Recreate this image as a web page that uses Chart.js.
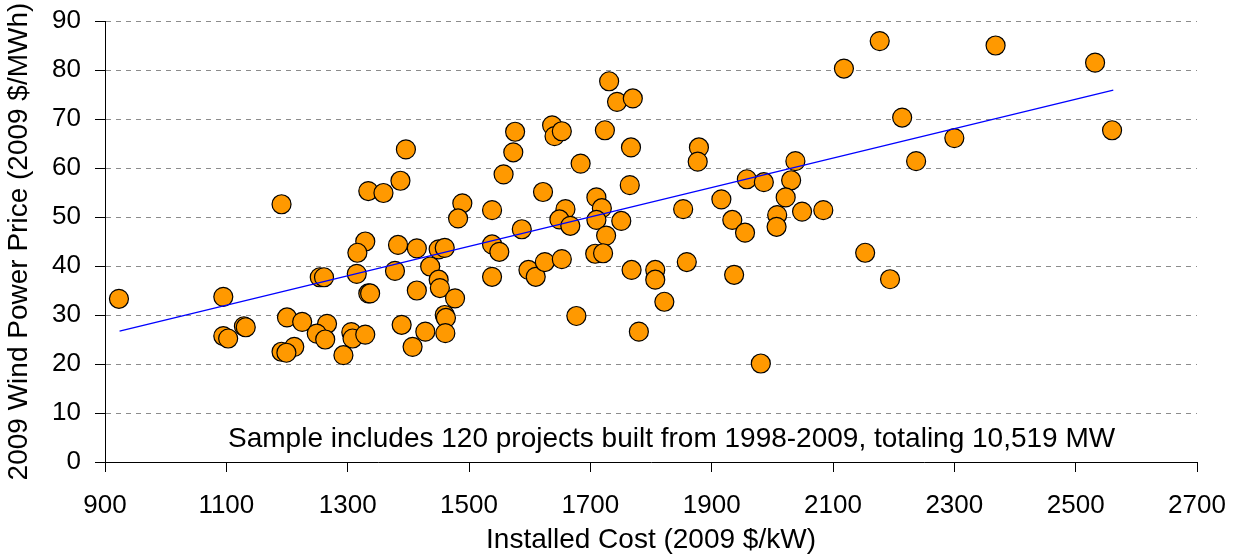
<!DOCTYPE html>
<html lang="en">
<head>
<meta charset="UTF-8">
<title>Wind Power Price vs Installed Cost</title>
<script src="https://cdn.jsdelivr.net/npm/chart.js"></script>
<style>
    body { margin: 0; background: #fff; }
    #wrap { width: 1237px; height: 557px; }
</style>
</head>
<body>
<div id="wrap"><canvas id="chart"></canvas></div>
<script>
// installed cost (2009 $/kW) and 2009 price (2009 $/MWh), one entry per project
const installedCost = [
    923, 1191, 1095, 1095, 1103, 1129, 1132, 1334, 1359, 1329,
    1316, 1254, 1261, 1315, 1334, 1337, 1200, 1225, 1266, 1249,
    1263, 1306, 1308, 1329, 1191, 1212, 1293, 1199, 1731, 1744,
    1770, 1576, 1573, 1557, 1637, 1641, 1653, 1724, 1767, 1684,
    1765, 1396, 1387, 1622, 1710, 1719, 1710, 1659, 1649, 1667,
    1751, 1726, 1708, 1721, 1489, 1482, 1538, 1587, 1538, 1550,
    1383, 1414, 1450, 1460, 1436, 1378, 1450, 1452, 1414, 1477,
    1460, 1462, 1461, 1428, 1389, 1407, 1538, 1598, 1610, 1625,
    1653, 1677, 1768, 1807, 1807, 1822, 1780, 2118, 2214, 2300,
    2237, 1879, 1877, 2038, 1958, 1986, 2031, 2022, 1916, 1853,
    2049, 2084, 2008, 2007, 1934, 1955, 1859, 1937, 2153, 2194,
    1981, 2368, 2532, 2560, 2177
];
const windPrice = [
    33.3, 52.6, 33.7, 25.7, 25.2, 27.7, 27.5, 55.3, 54.9, 45.0,
    42.7, 37.7, 37.7, 38.4, 34.4, 34.4, 29.5, 28.6, 28.2, 26.2,
    25.0, 26.5, 25.2, 26.0, 22.5, 23.5, 21.8, 22.3, 77.7, 73.5,
    74.2, 67.4, 63.2, 58.7, 68.7, 66.5, 67.5, 67.7, 64.2, 60.9,
    56.5, 63.8, 57.4, 55.1, 54.0, 51.8, 49.4, 51.6, 49.5, 48.2,
    49.2, 46.2, 42.5, 42.6, 52.8, 49.7, 51.4, 47.5, 44.4, 42.9,
    44.3, 43.6, 43.4, 43.7, 39.9, 39.0, 37.2, 35.5, 35.0, 33.4,
    30.0, 29.4, 26.3, 26.6, 28.0, 23.5, 37.8, 39.2, 37.8, 40.8,
    41.4, 29.8, 39.2, 39.2, 37.2, 32.7, 26.6, 80.3, 70.3, 66.1,
    61.4, 64.2, 61.3, 61.4, 57.7, 57.1, 57.5, 54.0, 53.6, 51.6,
    51.1, 51.4, 50.4, 48.0, 49.4, 46.8, 40.8, 38.2, 42.7, 37.3,
    20.1, 85.0, 81.5, 67.7, 85.9
];

// linear trend line end points
const trendCost = [924, 2562];
const trendPrice = [26.7, 75.9];

const noteText = 'Sample includes 120 projects built from 1998-2009, totaling 10,519 MW';
const noteAt = [1834, 3.0];

const FONT = 'Arial, "Liberation Sans", sans-serif';

const projects = installedCost.map((c, i) => ({ x: c, y: windPrice[i] }));
const trend = trendCost.map((c, i) => ({ x: c, y: trendPrice[i] }));

// text box inside the plot
const notePlugin = {
    id: 'note',
    afterDatasetsDraw(chart) {
        const { ctx, scales } = chart;
        ctx.save();
        ctx.font = '28px ' + FONT;
        ctx.fillStyle = '#000';
        ctx.textAlign = 'center';
        ctx.textBaseline = 'alphabetic';
        ctx.fillText(noteText, scales.x.getPixelForValue(noteAt[0]), scales.y.getPixelForValue(noteAt[1]));
        ctx.restore();
    }
};

new Chart(document.getElementById('chart'), {
    type: 'scatter',
    data: {
        datasets: [
            {
                label: 'Trend',
                data: trend,
                showLine: true,
                borderColor: '#0000ff',
                borderWidth: 1.3,
                pointRadius: 0,
                fill: false
            },
            {
                label: 'Projects',
                data: projects,
                backgroundColor: '#ff9900',
                borderColor: '#000',
                borderWidth: 1.2,
                pointRadius: 9.5,
                pointHoverRadius: 9.5
            }
        ]
    },
    options: {
        responsive: true,
        maintainAspectRatio: false,
        animation: false,
        layout: { padding: { top: 21, right: 40, left: 0, bottom: 0 } },
        plugins: {
            legend: { display: false },
            tooltip: { enabled: false }
        },
        scales: {
            x: {
                type: 'linear',
                min: 900,
                max: 2700,
                afterFit(scale) {
                    scale.height = 95;
                    scale.paddingLeft = 0;
                    scale.paddingRight = 0;
                },
                grid: { drawOnChartArea: false, tickLength: 10, tickColor: '#000' },
                border: { color: '#000', width: 1 },
                ticks: {
                    stepSize: 200,
                    padding: 18,
                    color: '#000',
                    maxRotation: 0,
                    autoSkip: false,
                    font: { size: 26, family: FONT },
                    callback: v => String(v)
                },
                title: {
                    display: true,
                    text: 'Installed Cost (2009 $/kW)',
                    color: '#000',
                    font: { size: 28, family: FONT },
                    padding: { top: 0, bottom: 0 }
                }
            },
            y: {
                min: 0,
                max: 90,
                afterFit(scale) {
                    scale.width = 105;
                    scale.paddingTop = 0;
                    scale.paddingBottom = 0;
                },
                grid: {
                    color: c => (c.tick && c.tick.value === 0) ? 'rgba(0,0,0,0)' : '#8c8c8c',
                    lineWidth: 1,
                    tickLength: 10,
                    tickColor: '#000'
                },
                border: { color: '#000', width: 1, dash: [5, 5] },
                ticks: {
                    stepSize: 10,
                    padding: 14,
                    color: '#000',
                    font: { size: 26, family: FONT }
                },
                title: {
                    display: true,
                    text: '2009 Wind Power Price (2009 $/MWh)',
                    color: '#000',
                    font: { size: 28, family: FONT },
                    padding: { top: 2, bottom: 0 }
                }
            }
        }
    },
    plugins: [notePlugin]
});
</script>
</body>
</html>
